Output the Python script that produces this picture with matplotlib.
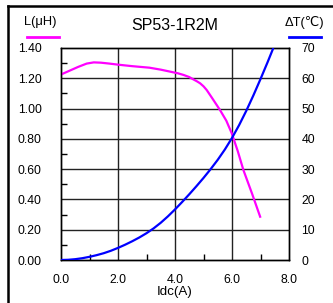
import matplotlib
matplotlib.use("Agg")
import matplotlib.pyplot as plt
from matplotlib.lines import Line2D
from matplotlib.ticker import MultipleLocator

# Data
TITLE = "SP53-1R2M"
X_LABEL = "Idc(A)"
L_LABEL = "L(μH)"
T_LABEL = "ΔT(℃)"

idc_L = [0.0, 0.3, 0.6, 0.9, 1.15, 1.4, 1.7, 2.0, 2.5, 3.1, 3.5, 3.8, 4.1, 4.3, 4.5, 4.64, 4.76,
         4.88, 5.0, 5.11, 5.3, 5.58, 5.8, 5.99, 6.2, 6.4, 6.7, 7.0]
inductance = [1.225, 1.25, 1.275, 1.297, 1.305, 1.303, 1.297, 1.29, 1.28, 1.27, 1.257, 1.245, 1.233,
              1.222, 1.208, 1.193, 1.181, 1.167, 1.147, 1.123, 1.07, 0.99, 0.92, 0.837, 0.72,
              0.594, 0.44, 0.279]

idc_T = [0.0, 0.25, 0.5, 0.75, 1.0, 1.25, 1.5, 1.75, 2.0, 2.25, 2.5, 2.75, 3.0, 3.25, 3.5, 3.75,
         4.0, 4.25, 4.5, 4.75, 5.0, 5.25, 5.5, 5.75, 6.0, 6.25, 6.5, 6.75, 7.0, 7.25, 7.45]
delta_t = [0.0, 0.07, 0.27, 0.6, 1.05, 1.6, 2.25, 3.05, 4.0, 5.05, 6.2, 7.45, 8.85, 10.45, 12.3,
           14.4, 16.7, 19.15, 21.7, 24.35, 27.1, 30.0, 33.1, 36.5, 40.3, 44.55, 49.25, 54.35,
           59.75, 65.35, 70.0]

x_ticks = [0, 2, 4, 6, 8]
l_ticks = [0.0, 0.2, 0.4, 0.6, 0.8, 1.0, 1.2, 1.4]
t_ticks = [0, 10, 20, 30, 40, 50, 60, 70]

MAGENTA = "#ff00ff"
BLUE = "#0000ff"
FONT = ["Liberation Sans", "DejaVu Sans"]

plt.rcParams["font.family"] = FONT
plt.rcParams["font.size"] = 8.8


def main():
    fig = plt.figure(figsize=(3.33, 3.03), dpi=100)
    ax = fig.add_axes([0.1832, 0.1419, 0.6847, 0.6997])
    ax2 = ax.twinx()

    # grid
    for x in x_ticks[1:-1]:
        ax.axvline(x, color="#222222", lw=1.0, zorder=1)
    for y in l_ticks[1:-1]:
        ax.axhline(y, color="#222222", lw=1.0, zorder=1)

    ax.plot(idc_L, inductance, color=MAGENTA, lw=1.6, zorder=3, solid_capstyle="butt")
    ax2.plot(idc_T, delta_t, color=BLUE, lw=1.6, zorder=3, solid_capstyle="butt")

    ax.set_xlim(0, 8)
    ax.set_ylim(0, 1.4)
    ax2.set_ylim(0, 70)

    ax.set_xticks(x_ticks)
    ax.set_xticklabels([f"{v:.1f}" for v in x_ticks])
    ax.set_yticks(l_ticks)
    ax.set_yticklabels([f"{v:.2f}" for v in l_ticks])
    ax2.set_yticks(t_ticks)
    ax2.set_yticklabels([str(v) for v in t_ticks])

    ax.xaxis.set_minor_locator(MultipleLocator(1))
    ax.yaxis.set_minor_locator(MultipleLocator(0.1))
    ax.tick_params(which="major", length=0)
    ax.tick_params(axis="x", which="major", pad=10)
    ax.tick_params(axis="y", which="major", pad=14)
    ax.tick_params(which="minor", direction="in", length=4, width=1, color="black")
    ax2.tick_params(which="both", length=0, pad=9)

    for a in (ax, ax2):
        for s in a.spines.values():
            s.set_color("black")
            s.set_linewidth(1.0)

    ax.set_xlabel(X_LABEL, fontsize=9.6, labelpad=0)

    # header texts
    fig.text(0.525, 0.917, TITLE, ha="center", va="center", fontsize=11.5)
    fig.text(0.12, 0.927, L_LABEL, ha="center", va="center", fontsize=9.3)
    fig.text(0.915, 0.927, T_LABEL, ha="center", va="center", fontsize=9.3, family=FONT)
    fig.add_artist(Line2D([0.081, 0.177], [0.879, 0.879], color=MAGENTA, lw=2))
    fig.add_artist(Line2D([0.868, 0.964], [0.879, 0.879], color=BLUE, lw=2))

    # outer frame (top and left)
    fig.add_artist(Line2D([0.024, 1.0], [0.981, 0.981], color="black", lw=1.8))
    fig.add_artist(Line2D([0.024, 0.024], [0.0, 0.981], color="black", lw=1.8))

    fig.savefig("out.png", dpi=100)
    plt.close(fig)


if __name__ == "__main__":
    main()
